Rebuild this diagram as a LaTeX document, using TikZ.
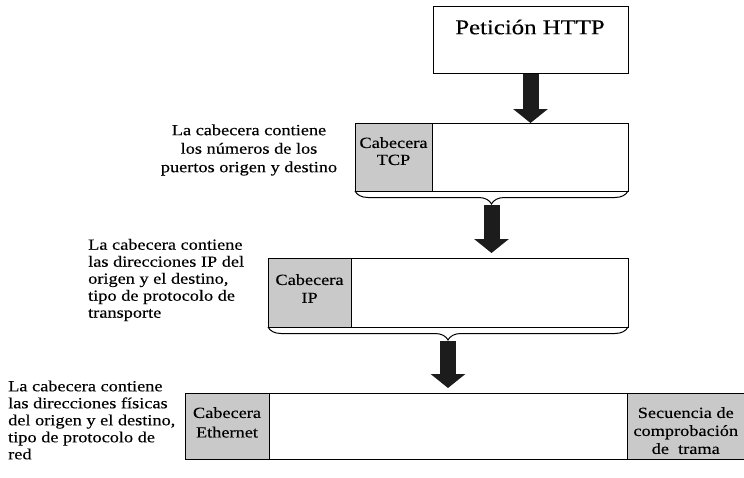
\documentclass[tikz,border=0pt]{standalone}
\usepackage{fontspec}
\setmainfont{Liberation Serif}
\newfontfamily\notefont[FakeStretch=1.18,FakeBold=0.25]{Liberation Serif}
\usetikzlibrary{positioning,calc,arrows.meta,decorations.pathreplacing}
\definecolor{hdgray}{HTML}{C9C9C9}
\definecolor{arrowblack}{HTML}{1C1C1C}

\tikzset{
	layerbox/.style={draw, line width=1pt, fill=white, inner sep=0pt, outer sep=0pt},
	headbox/.style={layerbox, fill=hdgray},
	boxtext/.style={align=center, inner sep=0pt, font=\notefont\fontsize{15.5}{17}\selectfont},
	notetext/.style={inner sep=0pt, font=\notefont\fontsize{15.5}{17}\selectfont},
	fatarrow/.style={arrowblack, line width=16pt, -{Triangle[width=34pt,length=14pt]}},
	layerbrace/.style={decorate, decoration={brace, mirror, amplitude=13pt}, line width=1pt}
}

\begin{document}
\begin{tikzpicture}[x=1pt, y=-1pt]
				\useasboundingbox (0,0) rectangle (744,477);

				\node [layerbox, minimum width=195pt, minimum height=67pt] (http) at (530.5,40) {};
				\node [boxtext, font=\notefont\fontsize{21}{24}\selectfont] (httptxt) at (530,27) {Petición HTTP};

				\node [headbox, minimum width=77pt, minimum height=68pt] (tcphd) at (393.5,157) {};
				\node [layerbox, minimum width=196pt, minimum height=68pt, right=0pt of tcphd] (tcpdata) {};
				\node [boxtext, below=14pt of tcphd.north] (tcphdtxt) {Cabecera\\TCP};
				\node [notetext, align=center, font=\notefont\fontsize{15.5}{18.5}\selectfont] (tcpnote) at (249,150) {La cabecera contiene\\los números de los\\puertos origen y destino};
				\draw [layerbrace] (tcphd.south west) -- (tcpdata.south east);
				\coordinate (tcptip) at ($(tcphd.south west)!0.5!(tcpdata.south east)+(0,14)$);
				\draw [fatarrow] (http.south) -- (http.south |- tcpdata.north);

				\node [headbox, minimum width=83pt, minimum height=69pt] (iphd) at (309.5,292.5) {};
				\node [layerbox, minimum width=277pt, minimum height=69pt, right=0pt of iphd] (ipdata) {};
				\node [boxtext, font=\notefont\fontsize{15.5}{18}\selectfont, below=16pt of iphd.north] (iphdtxt) {Cabecera\\IP};
				\node [notetext, align=left, anchor=west] (ipnote) at (88,280) {La cabecera contiene\\las direcciones IP del\\ origen y el destino,\\tipo de protocolo de\\ transporte};
				\draw [layerbrace] (iphd.south west) -- (ipdata.south east);
				\coordinate (iptip) at ($(iphd.south west)!0.5!(ipdata.south east)+(0,14)$);
				\draw [fatarrow, shorten >=5pt] (tcptip) -- (tcptip |- ipdata.north);

				\node [headbox, minimum width=84pt, minimum height=66pt] (ethhd) at (227,426) {};
				\node [layerbox, minimum width=358pt, minimum height=66pt, right=0pt of ethhd] (ethdata) {};
				\node [headbox, minimum width=117.5pt, minimum height=66pt, right=0pt of ethdata] (ethtrl) {};
				\node [boxtext, font=\notefont\fontsize{15.5}{19.5}\selectfont, below=14pt of ethhd.north] (ethhdtxt) {Cabecera\\Ethernet};
				\node [boxtext, font=\notefont\fontsize{15.5}{18}\selectfont, below=14pt of ethtrl.north] (ethtrltxt) {Secuencia de\\comprobación\\de \ trama};
				\node [notetext, align=left, anchor=west] (ethnote) at (8,420) {La cabecera contiene\\las direcciones físicas\\del origen y el destino,\\tipo de protocolo de\\red};
				\draw [fatarrow, shorten >=5pt] (iptip) -- (iptip |- ethdata.north);
			\end{tikzpicture}
\end{document}
